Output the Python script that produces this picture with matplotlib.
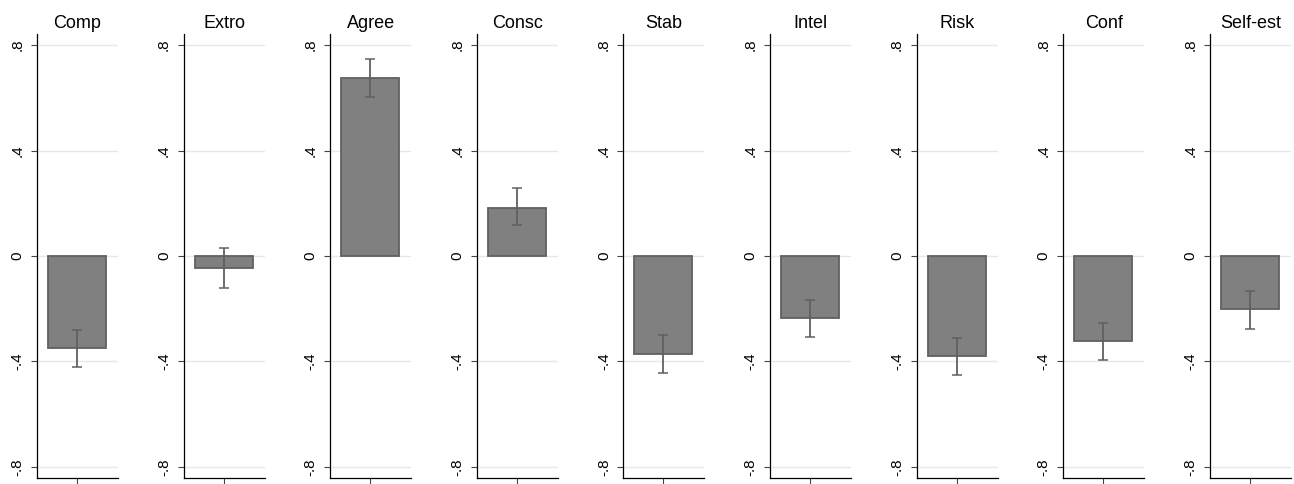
import matplotlib
matplotlib.use("Agg")
import matplotlib.pyplot as plt

plt.rcParams['font.family'] = ['Liberation Sans', 'DejaVu Sans']

categories = ["Comp", "Extro", "Agree", "Consc", "Stab", "Intel", "Risk", "Conf", "Self-est"]
means = [-0.349, -0.045, 0.674, 0.182, -0.372, -0.235, -0.379, -0.322, -0.202]
ci_low = [-0.420, -0.121, 0.604, 0.118, -0.444, -0.307, -0.451, -0.394, -0.277]
ci_high = [-0.281, 0.030, 0.746, 0.258, -0.300, -0.167, -0.311, -0.254, -0.132]
yticks = [-0.8, -0.4, 0, 0.4, 0.8]
ytick_labels = ["-.8", "-.4", "0", ".4", ".8"]

W, H = 1294, 484
fig = plt.figure(figsize=(W / 100, H / 100), dpi=100)

ax_left0 = 37
ax_step = 146.6
ax_w = 81
ax_top = 34
ax_bot = 478

for i, cat in enumerate(categories):
    left = (ax_left0 + i * ax_step) / W
    ax = fig.add_axes([left, (H - ax_bot) / H, ax_w / W, (ax_bot - ax_top) / H])
    ax.set_ylim(-0.842, 0.842)
    ax.set_xlim(-0.494, 0.506)
    for t in yticks:
        ax.axhline(t, color="#e8e8e8", lw=1.0, zorder=0)
    ax.bar([0], [means[i]], width=0.716, color="#808080", edgecolor="#606060",
           linewidth=1.3, zorder=2)
    ax.errorbar([0], [means[i]],
                yerr=[[means[i] - ci_low[i]], [ci_high[i] - means[i]]],
                fmt="none", ecolor="#606060", elinewidth=1.3, capsize=3.8,
                capthick=1.1, zorder=3)
    ax.set_yticks(yticks)
    ax.set_yticklabels(ytick_labels, rotation=90, va="center", fontsize=11)
    ax.set_xticks([0])
    ax.set_xticklabels([""])
    ax.tick_params(axis="both", length=4.5, width=0.8, color="#444444", pad=4.5)
    for s in ["top", "right"]:
        ax.spines[s].set_visible(False)
    for s in ["left", "bottom"]:
        ax.spines[s].set_linewidth(0.9)
        ax.spines[s].set_color("#000000")
    ax.set_title(cat, fontsize=13, pad=4.5)

fig.savefig("out.png", dpi=100)
